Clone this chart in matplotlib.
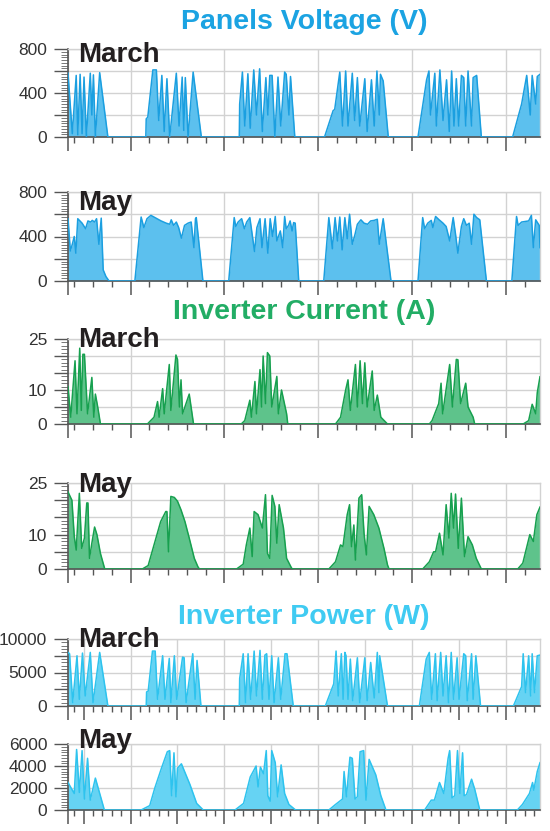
import matplotlib
matplotlib.use('Agg')
import matplotlib.pyplot as plt
from matplotlib.ticker import MultipleLocator, FixedLocator

plt.rcParams['font.family'] = ['Liberation Sans', 'DejaVu Sans']

# time axis in hours, vertical grid lines at midnight (24, 48, ...)
t_start, t_end = 8.0, 128.7

# ---- Panels voltage (V) ----
volt_mar_t = [8.0, 9.1, 10.1, 10.5, 11.1, 11.6, 12.1, 12.7, 13.7, 14.1, 14.5, 15.0, 16.1, 18.2,
              27.9, 28.0, 28.4, 29.7, 30.6, 31.2, 32.0, 32.6, 33.3, 34.0, 35.7, 36.4, 37.2, 37.6, 38.0, 38.7, 40.0, 42.1,
              51.8, 51.9, 52.6, 53.2, 54.0, 54.6, 55.5, 56.2, 57.0, 57.7, 58.6, 59.1, 59.6, 60.2, 60.9, 61.7, 62.4, 63.4, 63.8, 64.5, 64.9, 66.0,
              73.6, 75.8, 76.2, 77.5, 78.2, 79.0, 79.6, 80.7, 81.3, 82.0, 82.6, 83.9, 84.5, 85.6, 86.3, 87.0, 87.6, 87.9, 88.6, 89.9,
              97.5, 99.7, 100.3, 100.7, 101.8, 102.2, 103.1, 103.9, 104.8, 105.5, 106.1, 106.7, 107.3, 107.9, 108.6, 109.2, 109.7, 110.3, 111.2, 111.6, 112.5, 113.7,
              121.7, 124.0, 125.3, 126.2, 126.7, 127.6, 128.0, 128.7]
volt_mar_v = [580, 30, 560, 20, 570, 30, 545, 0, 580, 200, 565, 0, 585, 0,
              0, 165, 180, 610, 610, 150, 560, 50, 530, 0, 580, 100, 545, 60, 540, 0, 590, 0,
              0, 300, 590, 100, 575, 80, 610, 200, 620, 50, 540, 200, 560, 560, 0, 545, 100, 590, 570, 200, 550, 0,
              0, 240, 250, 590, 100, 600, 100, 580, 150, 540, 100, 530, 50, 520, 100, 600, 200, 570, 510, 0,
              0, 520, 600, 200, 580, 100, 610, 150, 520, 50, 600, 100, 530, 100, 560, 540, 100, 600, 100, 540, 560, 0,
              0, 300, 560, 200, 560, 300, 550, 570]

volt_may_t = [8.0, 8.6, 9.1, 9.6, 10.0, 10.5, 11.6, 12.5, 13.1, 13.8, 14.2, 14.8, 15.3, 15.9, 16.5, 17.0, 17.7, 18.5,
              25.1, 26.7, 27.4, 28.2, 29.2, 30.5, 31.8, 33.1, 34.0, 34.4, 35.0, 35.7, 36.3, 37.0, 37.8, 38.7, 39.5, 40.2, 40.6, 40.8, 42.5,
              49.1, 50.5, 50.9, 51.5, 52.4, 53.1, 53.7, 54.5, 55.7, 56.3, 57.1, 57.6, 58.4, 59.1, 59.7, 60.3, 61.0, 61.4, 62.3, 62.9, 63.4, 63.8, 64.4, 64.8, 65.3, 65.7, 66.1, 67.0,
              73.4, 74.7, 75.1, 75.6, 76.3, 76.9, 77.5, 78.1, 78.8, 79.4, 80.0, 80.7, 81.4, 82.0, 82.9, 83.7, 84.6, 85.4, 86.3, 87.1, 87.6, 88.6, 90.6,
              97.5, 98.7, 99.2, 100.0, 100.9, 101.3, 102.0, 102.9, 103.9, 104.7, 105.6, 106.5, 107.1, 107.7, 108.6, 109.2, 109.9, 110.6, 111.2, 111.8, 112.5, 113.3, 115.0,
              121.5, 122.7, 123.1, 124.0, 125.8, 126.5, 127.0, 127.6, 128.5, 128.7]
volt_may_v = [560, 270, 330, 400, 250, 560, 520, 470, 540, 530, 545, 530, 560, 330, 565, 100, 40, 0,
              0, 575, 480, 560, 590, 565, 540, 520, 510, 550, 500, 530, 480, 385, 500, 520, 530, 300, 560, 570, 0,
              0, 570, 490, 530, 560, 470, 530, 570, 265, 480, 560, 300, 560, 250, 560, 400, 580, 360, 450, 300, 580, 470, 500, 540, 450, 525, 520, 0,
              0, 570, 450, 290, 570, 360, 575, 280, 570, 380, 600, 330, 420, 510, 550, 520, 510, 540, 545, 555, 330, 560, 0,
              0, 570, 470, 520, 545, 480, 580, 550, 520, 490, 360, 570, 420, 250, 490, 560, 500, 520, 330, 600, 570, 550, 0,
              0, 580, 500, 530, 540, 590, 300, 550, 500, 300]

# ---- Inverter current (A) ----
curr_mar_t = [8.0, 8.7, 9.8, 10.3, 11.0, 11.4, 11.8, 12.2, 13.0, 14.1, 14.6, 15.0, 15.6, 16.3,
              28.3, 30.0, 30.9, 31.3, 32.2, 32.6, 33.9, 34.3, 35.6, 36.0, 36.5, 36.9, 37.3, 39.0, 40.1,
              52.3, 53.2, 54.5, 54.9, 55.8, 56.2, 57.1, 57.5, 57.9, 58.5, 59.0, 59.6, 60.1, 61.4, 61.8, 62.6, 63.9, 64.2,
              76.4, 77.7, 79.0, 79.6, 80.2, 81.5, 82.0, 82.7, 83.3, 83.9, 84.5, 85.8, 86.3, 87.1, 88.0, 89.7,
              100.4, 101.1, 102.8, 103.4, 103.8, 105.6, 106.3, 107.3, 107.7, 108.4, 109.7, 110.3, 111.6, 112.0,
              124.4, 125.8, 126.7, 127.6, 128.0, 128.7]
curr_mar_v = [11, 2, 18.6, 3, 22.3, 4, 20.5, 20.5, 3, 13.7, 2, 8.8, 5, 0,
              0, 2, 6.6, 2, 10.4, 3, 17.5, 4, 20.3, 19, 5, 13, 3, 8.8, 0,
              0, 1, 7, 2, 12.5, 3, 16, 5, 20, 6, 21, 20, 5, 14, 3, 10, 3, 0,
              0, 2, 10, 13, 4, 17.5, 5, 18.6, 6, 18, 5, 15.6, 4, 8.5, 2, 0,
              0, 1, 6, 12, 3, 17.5, 5, 19, 18.9, 6, 12, 5, 2, 0,
              0, 1, 5.8, 3, 9.2, 13.9]

curr_may_t = [8.0, 9.0, 9.6, 10.1, 10.9, 11.5, 12.2, 12.8, 13.1, 13.5, 14.1, 14.8, 15.4, 16.3, 17.4,
              27.0, 28.5, 30.0, 31.7, 33.0, 33.3, 33.7, 34.3, 35.2, 36.0, 36.9, 37.9, 39.0, 40.3, 41.2, 41.6,
              51.1, 52.8, 53.6, 54.5, 55.1, 55.6, 56.6, 57.7, 58.5, 59.0, 59.6, 60.2, 60.9, 61.4, 62.0, 63.1, 63.9, 65.2, 65.6,
              74.7, 76.4, 77.7, 78.3, 79.4, 80.0, 80.5, 81.1, 81.5, 82.4, 83.1, 83.7, 84.3, 85.0, 86.2, 87.5, 88.8, 89.7, 90.1,
              98.7, 100.4, 101.5, 102.0, 103.0, 103.9, 104.7, 105.4, 106.0, 106.6, 107.1, 107.8, 108.6, 109.4, 110.3, 111.4, 112.4, 113.7,
              123.0, 124.3, 126.1, 127.0, 127.9, 128.7]
curr_may_v = [22.4, 20, 9.5, 5.5, 22, 6, 9, 19.2, 19.2, 3.1, 7.5, 12.2, 10, 4.5, 0,
              0, 1, 7, 13.8, 16.7, 16.7, 5, 21.1, 20.8, 19.7, 17.2, 13.8, 9, 3.1, 0.7, 0,
              0, 1.4, 7, 11.9, 3.6, 16.7, 15.8, 11.9, 21.6, 4.6, 3.1, 21.4, 18.2, 7.5, 18.7, 11.9, 3.1, 0.2, 0,
              0, 2.1, 7, 6.5, 15.8, 18.7, 6.5, 12.8, 2.6, 20.6, 21.6, 10.4, 4.1, 18.2, 15.8, 11.9, 6, 1.2, 0,
              0, 2.1, 5, 5, 10.4, 4.1, 18.7, 9, 22, 11.9, 21.8, 6, 20.6, 3.6, 9.4, 7, 3.1, 0,
              0, 1.7, 10, 8, 15.8, 18]

# ---- Inverter power (W) ----
pow_mar_t = [8.0, 8.4, 9.2, 10.3, 10.9, 11.7, 12.4, 13.7, 14.4, 16.1, 18.2,
             28.0, 28.1, 28.5, 29.6, 30.3, 30.9, 32.2, 32.8, 33.9, 34.3, 35.2, 35.8, 37.3, 37.7, 38.2, 39.9, 40.5, 41.0, 42.0,
             51.8, 51.9, 52.8, 53.4, 54.05, 54.7, 55.6, 56.2, 57.1, 57.7, 58.35, 58.8, 59.4, 60.1, 60.7, 61.8, 62.4, 63.5, 64.0, 65.6,
             73.8, 75.95, 76.55, 77.1, 77.9, 78.35, 78.8, 79.1, 79.6, 80.2, 80.8, 82.0, 82.6, 83.9, 84.5, 85.4, 86.3, 87.1, 87.5, 87.7, 89.7,
             97.85, 99.6, 100.4, 101.0, 101.95, 102.4, 103.3, 103.9, 104.7, 105.3, 106.0, 106.6, 107.5, 108.0, 109.2, 109.7, 110.1, 111.2, 111.6, 112.3, 113.5,
             121.9, 124.0, 124.4, 125.0, 125.8, 126.3, 126.7, 127.3, 128.0, 128.7]
pow_mar_v = [8000, 7800, 500, 7500, 1000, 7900, 1500, 8000, 500, 8000, 0,
             0, 2100, 2200, 8200, 8200, 1000, 7500, 1000, 7100, 500, 7500, 1000, 7300, 7200, 500, 7800, 1000, 6800, 0,
             0, 4100, 7800, 500, 7800, 1000, 8200, 1500, 8300, 1000, 7600, 7800, 1000, 7500, 500, 7200, 1000, 7800, 7800, 0,
             0, 3300, 8200, 1500, 7800, 1000, 8000, 7500, 1000, 7000, 800, 7200, 500, 7200, 800, 6500, 1200, 8000, 2000, 7500, 0,
             0, 7000, 8000, 1000, 7800, 800, 8000, 1500, 7500, 500, 8000, 1000, 7200, 1000, 7800, 7500, 800, 7800, 1000, 7500, 0,
             0, 2900, 7800, 2000, 7500, 1500, 7800, 2000, 7500, 7600]

pow_may_t = [8.0, 9.6, 10.2, 10.9, 11.6, 12.2, 13.0, 13.7, 15.0, 17.3,
             26.7, 28.9, 30.2, 31.9, 33.4, 34.0, 34.5, 35.1, 35.6, 36.0, 37.0, 39.2, 40.9, 42.6,
             50.7, 52.9, 54.6, 56.1, 56.6, 57.2, 58.0, 58.7, 59.1, 59.7, 60.1, 61.0, 61.6, 62.5, 63.4, 64.5, 66.2,
             74.7, 76.4, 78.2, 78.6, 79.2, 80.1, 80.7, 81.4, 82.0, 82.7, 83.6, 84.2, 85.0, 86.7, 88.0, 89.3,
             99.2, 100.9, 101.7, 103.0, 104.1, 105.2, 105.6, 106.2, 106.9, 107.6, 108.2, 108.9, 109.3, 109.9, 111.2, 112.0, 113.3,
             122.9, 124.2, 126.0, 126.8, 127.1, 128.0, 128.7]
pow_may_v = [2500, 1500, 5500, 1600, 5400, 1000, 4700, 900, 2900, 0,
             0, 400, 2000, 3800, 5300, 5400, 1300, 5200, 1200, 3800, 4200, 2300, 600, 0,
             0, 600, 3000, 4000, 2100, 3900, 3300, 5400, 1300, 800, 5400, 4300, 1200, 4100, 1500, 500, 0,
             0, 500, 1000, 3500, 1200, 4800, 4700, 1000, 1200, 5300, 5400, 900, 4600, 3200, 1300, 0,
             0, 900, 900, 2500, 1500, 4700, 5400, 1100, 1300, 5400, 1500, 5200, 1300, 1400, 2800, 1900, 0,
             0, 500, 1500, 2500, 1800, 3500, 4300]

W, H = 550, 831
fig = plt.figure(figsize=(W / 100, H / 100), dpi=100)
fig.patch.set_facecolor('white')

BLUE = ('#1b9fe0', '#5cc0ee')
GREEN = ('#17a04f', '#5ec38b')
CYAN = ('#2ec3ee', '#66d3f3')
GRID = '#d2d2d2'
AX = '#555555'


def panel(top, bottom, t, v, ymax, ystep, ylabels, yminor, colors, xmajor, month, base):
    ax = fig.add_axes([68 / W, 1 - bottom / H, 472 / W, (bottom - top) / H])
    ax.fill_between(t, v, 0, color=colors[1], lw=0, zorder=2)
    ax.plot(t, v, color=colors[0], lw=1.1, zorder=3)
    ax.set_xlim(t_start, t_end)
    ax.set_ylim(0, ymax)

    yt = list(range(0, ymax + 1, ystep))
    ax.yaxis.set_major_locator(FixedLocator(yt))
    ax.set_yticklabels([str(y) if y in ylabels else '' for y in yt])
    ax.yaxis.set_minor_locator(MultipleLocator(yminor))

    xt = [t_start] + list(range(xmajor, int(t_end) + 1, xmajor))
    ax.xaxis.set_major_locator(FixedLocator(xt))
    ax.xaxis.set_minor_locator(MultipleLocator(xmajor / 5))
    ax.set_xticklabels([])

    ax.grid(True, which='major', color=GRID, lw=1.0, zorder=0)
    ax.set_axisbelow(True)
    ax.tick_params(axis='y', which='major', length=10, width=1.0, color=AX,
                   labelsize=12.5, labelcolor='#333333', pad=5)
    ax.tick_params(axis='y', which='minor', length=5, width=0.7, color='#777777')
    ax.tick_params(axis='x', which='major', length=10, width=1.1, color=AX)
    ax.tick_params(axis='x', which='minor', length=4.5, width=1.0, color=AX)
    for s in ('left', 'bottom'):
        ax.spines[s].set_color(AX)
        ax.spines[s].set_linewidth(1.2)
    for s in ('top', 'right'):
        ax.spines[s].set_color(GRID)
        ax.spines[s].set_linewidth(1.0)

    fig.text(78 / W, 1 - base / H, month, fontsize=20, fontweight='bold',
             color='#231f20', ha='left', va='baseline')
    return ax


panel(49, 137, volt_mar_t, volt_mar_v, 800, 200, [0, 400, 800], 25, BLUE, 24, 'March', 62.5)
panel(192, 281, volt_may_t, volt_may_v, 800, 200, [0, 400, 800], 25, BLUE, 24, 'May', 209.5)
panel(339, 424, curr_mar_t, curr_mar_v, 25, 5, [0, 10, 25], 1, GREEN, 24, 'March', 347)
panel(483, 569, curr_may_t, curr_may_v, 25, 5, [0, 10, 25], 1, GREEN, 24, 'May', 492.5)
panel(639, 706, pow_mar_t, pow_mar_v, 10000, 2500, [0, 5000, 10000], 500, CYAN, 12, 'March', 647)
panel(744, 810, pow_may_t, pow_may_v, 6000, 2000, [0, 2000, 4000, 6000], 250, CYAN, 12, 'May', 748.5)

fig.text(304 / W, 1 - 22 / H, 'Panels Voltage (V)', fontsize=20.5, fontweight='bold',
         color='#1ba3e2', ha='center', va='center')
fig.text(304 / W, 1 - 312 / H, 'Inverter Current (A)', fontsize=20.5, fontweight='bold',
         color='#22ad65', ha='center', va='center')
fig.text(304 / W, 1 - 617 / H, 'Inverter Power (W)', fontsize=20.5, fontweight='bold',
         color='#40cbf2', ha='center', va='center')

fig.savefig('out.png', dpi=100, facecolor='white')
